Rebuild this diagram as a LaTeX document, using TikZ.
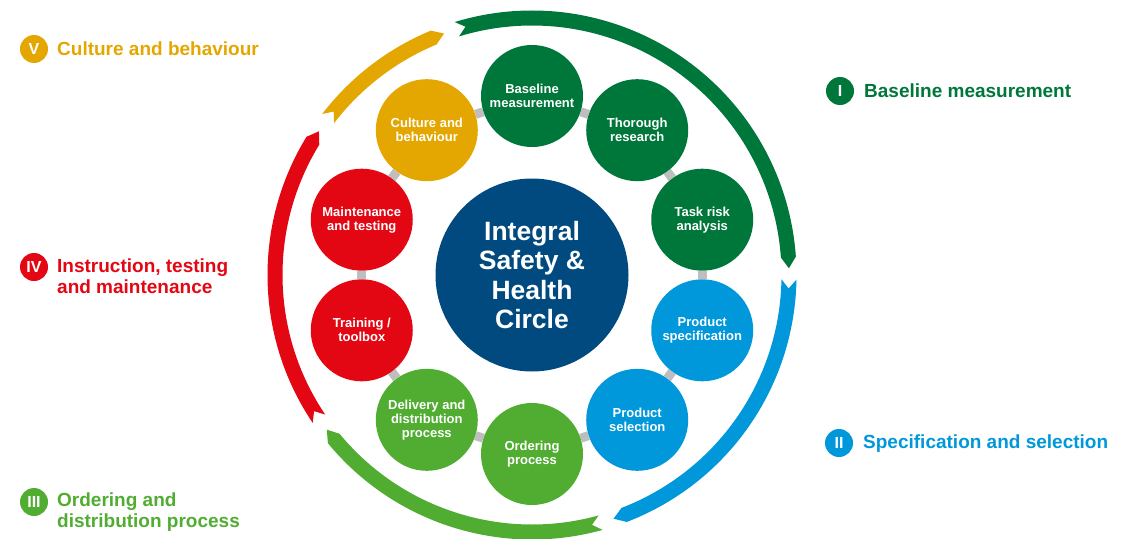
\documentclass[tikz,border=0pt]{standalone}
\usepackage{fontspec}
\setmainfont{Liberation Sans}
\usetikzlibrary{calc,backgrounds}
\definecolor{dkgreen}{RGB}{0,119,58}
\definecolor{skyblue}{RGB}{0,152,218}
\definecolor{lgreen}{RGB}{80,173,50}
\definecolor{bred}{RGB}{227,6,19}
\definecolor{byellow}{RGB}{228,166,0}
\definecolor{navy}{RGB}{0,74,128}
\definecolor{ringgray}{RGB}{190,190,190}
\newcommand{\ringseg}[3]{%
  \fill[#1] ($(C)+(#2:264.5pt)$) arc[start angle=#2, end angle={#3+2.5}, radius=264.5pt]
   -- ($(C)+(#3:257pt)$) -- ($(C)+({#3+2.5}:249.5pt)$)
   arc[start angle={#3+2.5}, end angle=#2, radius=249.5pt]
   -- ($(C)+({#2-2}:257pt)$) -- cycle;}
\begin{document}
\begin{tikzpicture}[x=1pt,y=1pt,
  ringnode/.style={circle, minimum size=102pt, inner sep=0pt, text=white,
    font=\bfseries\fontsize{13}{14}\selectfont, align=center},
  hub/.style={circle, minimum size=193pt, inner sep=0pt, fill=navy, text=white,
    font=\bfseries\fontsize{26.5}{29.5}\selectfont, align=center},
  badge/.style={circle, minimum size=28pt, inner sep=0pt, text=white,
    font=\bfseries\fontsize{16}{16}\selectfont},
  sidelabel/.style={anchor=west, align=left, inner sep=0pt,
    font=\bfseries\fontsize{19}{21}\selectfont},
  ringlink/.style={draw=ringgray, line width=9pt}
]
\useasboundingbox (0,0) rectangle (1137,-538);
\coordinate (C) at (532,-275);

% outer arrow segments (clockwise)
\ringseg{dkgreen}{107}{1.5}
\ringseg{skyblue}{-1}{-71.5}
\ringseg{lgreen}{-74.5}{-143}
\ringseg{bred}{214}{146}
\ringseg{byellow}{142.5}{110}

% ring of steps
\foreach \i/\ang/\col/\txt in {
  0/90/dkgreen/{Baseline\\measurement},
  1/54/dkgreen/{Thorough\\research},
  2/18/dkgreen/{Task risk\\analysis},
  3/-18/skyblue/{Product\\specification},
  4/-54/skyblue/{Product\\selection},
  5/-90/lgreen/{Ordering\\process},
  6/-126/lgreen/{Delivery and\\distribution\\process},
  7/-162/bred/{Training /\\toolbox},
  8/162/bred/{Maintenance\\and testing},
  9/126/byellow/{Culture and\\behaviour}}
{
  \node[ringnode, fill=\col] (n\i) at ($(C)+(\ang:179pt)$) {\txt};
}
\begin{scope}[on background layer]
  \foreach \i/\j in {0/1,1/2,2/3,3/4,4/5,5/6,6/7,7/8,8/9,9/0}
    \draw[ringlink] (n\i) -- (n\j);
\end{scope}

\node[hub] (hub) at (C) {Integral\\Safety \&\\Health\\Circle};

% side labels
\node[badge, fill=byellow] (b5) at (34,-49) {V};
\node[sidelabel, text=byellow] (l5) at (57,-49) {Culture and behaviour};

\node[badge, fill=dkgreen] (b1) at (840,-91) {I};
\node[sidelabel, text=dkgreen] (l1) at (864,-91) {Baseline measurement};

\node[badge, fill=bred] (b4) at (34,-267) {IV};
\node[sidelabel, text=bred] (l4) at (57,-276) {Instruction, testing\\and maintenance};

\node[badge, fill=lgreen] (b3) at (34,-502) {III};
\node[sidelabel, text=lgreen] (l3) at (57,-512) {Ordering and\\distribution process};

\node[badge, fill=skyblue] (b2) at (839,-443) {II};
\node[sidelabel, text=skyblue] (l2) at (863,-444) {Specification and selection};
\end{tikzpicture}
\end{document}
